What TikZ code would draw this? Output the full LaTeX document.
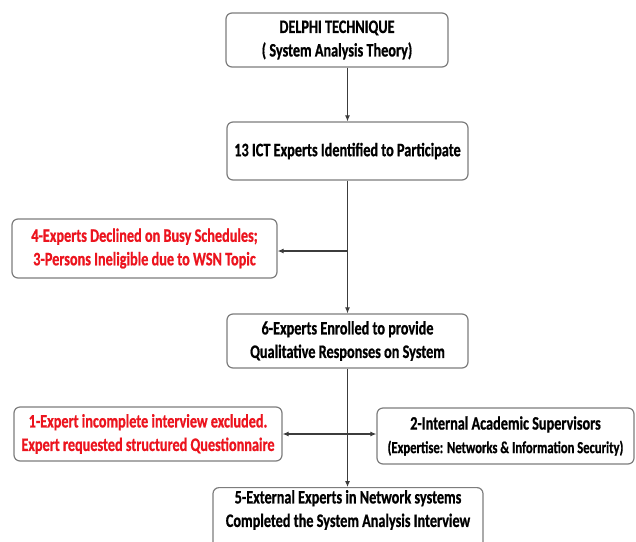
\documentclass[tikz,border=0pt]{standalone}
\usepackage{fontspec}
\setmainfont[FakeStretch=0.75,BoldFont={Carlito Bold},BoldFeatures={FakeStretch=0.75,FakeBold=0.8}]{Carlito}
\usetikzlibrary{arrows.meta,calc}
\definecolor{redtxt}{RGB}{236,20,30}
\definecolor{boxline}{RGB}{125,125,125}
\definecolor{lineclr}{RGB}{60,60,60}
\begin{document}
\begin{tikzpicture}[x=1pt,y=-1pt,
  box/.style={draw=boxline,line width=1.2pt,rounded corners=6pt,fill=white,align=center,
    font=\fontsize{19}{23.5}\selectfont\bfseries,inner sep=0pt},
  redbox/.style={box,text=redtxt},
  conn/.style={draw=lineclr,line width=1.1pt,-{Latex[length=6pt,width=5pt]}},
  dconn/.style={draw=lineclr,line width=1.1pt,{Latex[length=6pt,width=5pt]}-{Latex[length=6pt,width=5pt]}}]
\useasboundingbox (0,0) rectangle (636,541);
\fill[white] (0,0) rectangle (636,541);
\node[box,minimum width=222,minimum height=54] (b1) at (337,40) {DELPHI TECHNIQUE\\( System Analysis Theory)};
\node[box,minimum width=241,minimum height=58] (b2) at (347.5,151) {13 ICT Experts Identified to Participate};
\node[redbox,minimum width=265,minimum height=59] (b3) at (144.5,248.5) {4-Experts Declined on Busy Schedules;\\3-Persons Ineligible due to WSN Topic};
\node[box,minimum width=241,minimum height=54] (b4) at (347.5,341) {6-Experts Enrolled to provide\\Qualitative Responses on System};
\node[redbox,minimum width=268,minimum height=54] (b5) at (148,434) {1-Expert incomplete interview excluded.\\Expert requested structured Questionnaire};
\node[box,minimum width=257,minimum height=56] (b6) at (505.5,436) {2-Internal Academic Supervisors\\{\fontsize{16.8}{20}\selectfont (Expertise: Networks \& Information Security)}};
\node[box,minimum width=270,minimum height=66,anchor=north] (b7) at (348,487) {};
\node[align=center,font=\fontsize{19}{23.5}\selectfont\bfseries,inner sep=0pt] (t7) at (348,510) {5-External Experts in Network systems\\Completed the System Analysis Interview};
\coordinate (j1) at (347,251);
\draw[conn] (b1.south -| b2.north) -- (b2.north);
\draw[conn] (b2.south) -- (b4.north);
\draw[conn] (j1) -- (j1 -| b3.east);
\draw[conn] (b4.south) -- (b4.south |- b7.north);
\draw[dconn] (b5.east) -- (b5.east -| b6.west);
\end{tikzpicture}
\end{document}
